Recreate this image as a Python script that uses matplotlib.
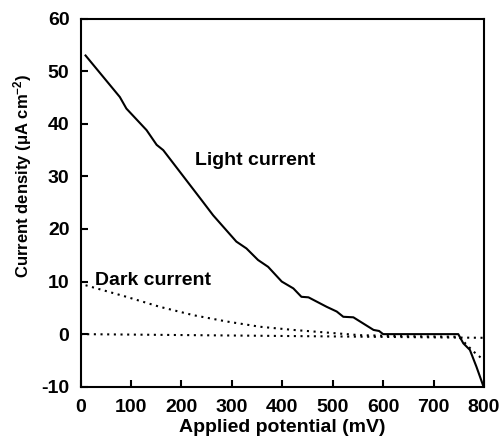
import matplotlib
matplotlib.use("Agg")
import matplotlib.pyplot as plt

plt.rcParams['font.family'] = ['Liberation Sans', 'DejaVu Sans']
plt.rcParams['font.weight'] = 'bold'
plt.rcParams['axes.unicode_minus'] = False
plt.rcParams['mathtext.fontset'] = 'custom'
plt.rcParams['mathtext.rm'] = 'Liberation Sans:bold'
plt.rcParams['mathtext.bf'] = 'Liberation Sans:bold'
plt.rcParams['mathtext.default'] = 'rm'

# Light current (solid)
light_x = [10, 78, 91, 131, 151, 164, 240, 263, 309, 329, 352, 372, 399, 422, 438, 452,
           488, 508, 521, 541, 581, 592, 600, 700, 749, 759, 772, 785, 798]
light_y = [53, 45.1, 42.9, 38.8, 36, 35, 25.5, 22.6, 17.6, 16.3, 14.1, 12.8, 10, 8.7, 7.1, 7.0,
           5.2, 4.3, 3.3, 3.2, 0.8, 0.6, 0, 0, 0, -1.75, -3, -6.2, -9.7]

# Dark current (dotted, decaying)
dark_x = [10, 91, 157, 224, 290, 356, 422, 488, 554, 650, 750, 779, 799]
dark_y = [9.3, 7.1, 5.2, 3.6, 2.4, 1.4, 0.8, 0.3, -0.2, -0.4, -0.5, -3.3, -4.9]

# Baseline (dotted, near zero)
base_x = [0, 800]
base_y = [0, -0.7]

xticks = [0, 100, 200, 300, 400, 500, 600, 700, 800]
yticks = [-10, 0, 10, 20, 30, 40, 50, 60]

fig = plt.figure(figsize=(5, 4.45), dpi=100)
ax = fig.add_axes([0.161, 0.131, 0.807, 0.827])

ax.plot(light_x, light_y, color='black', lw=1.5)
ax.plot(dark_x, dark_y, color='black', lw=1.5, linestyle=(0, (1, 2.2)))
ax.plot(base_x, base_y, color='black', lw=1.5, linestyle=(0, (1, 2.2)))

ax.set_xlim(0, 800)
ax.set_ylim(-10, 60)
ax.set_xticks(xticks)
ax.set_yticks(yticks)
ax.tick_params(direction='in', length=5, width=1.5, labelsize=14)
ax.tick_params(axis='x', pad=9)
ax.tick_params(axis='y', pad=8)
for lab in ax.get_xticklabels() + ax.get_yticklabels():
    lab.set_fontweight('bold')
for s in ax.spines.values():
    s.set_linewidth(1.5)

ax.set_xlabel('Applied potential (mV)', fontsize=14, fontweight='bold', labelpad=2)
ax.set_ylabel('Current density (μA cm$^{-2}$)', fontsize=12, fontweight='bold')
ax.yaxis.set_label_coords(-0.116, 0.572)

ax.text(227, 32.1, 'Light current', fontsize=14, fontweight='bold', va='baseline', ha='left')
ax.text(28, 9.3, 'Dark current', fontsize=14, fontweight='bold', va='baseline', ha='left')

fig.savefig('out.png', dpi=100)
